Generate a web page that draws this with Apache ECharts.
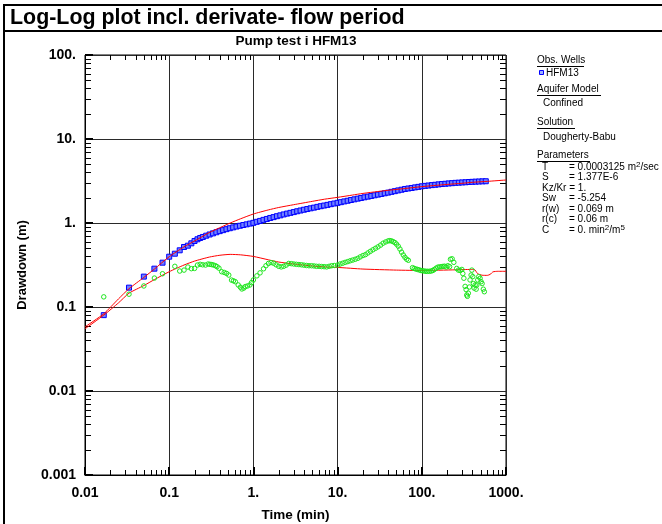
<!DOCTYPE html>
<html>
<head>
<meta charset="utf-8">
<script src="https://cdn.jsdelivr.net/npm/echarts@6/dist/echarts.min.js"></script>
<style>
  html, body { margin: 0; padding: 0; background: #fff; }
  #chart { width: 662px; height: 524px; }
</style>
</head>
<body>
<div id="chart"></div>
<script>
// ---- Observed drawdown, well HFM13 (time in min, drawdown in m) ----
const obsTime = [
  0.0167, 0.0333, 0.05, 0.0667, 0.0833, 0.1, 0.1167, 0.1333, 0.15, 0.1667, 0.1833, 0.2, 0.2167, 0.2333,
  0.251, 0.275, 0.302, 0.331, 0.363, 0.398, 0.437, 0.479, 0.525, 0.575, 0.631, 0.692, 0.759, 0.832, 0.912,
  1.0, 1.096, 1.202, 1.318, 1.445, 1.585, 1.738, 1.905, 2.089, 2.291, 2.512, 2.754, 3.02, 3.311, 3.631,
  3.981, 4.365, 4.786, 5.248, 5.754, 6.31, 6.918, 7.586, 8.318, 9.12, 10.0, 10.96, 12.02, 13.18, 14.45,
  15.85, 17.38, 19.05, 20.89, 22.91, 25.12, 27.54, 30.2, 33.11, 36.31, 39.81, 43.65, 47.86, 52.48, 57.54,
  63.1, 69.18, 75.86, 83.18, 91.2, 100.0, 109.6, 120.2, 131.8, 144.5, 158.5, 173.8, 190.5, 208.9, 229.1,
  251.2, 275.4, 302.0, 331.1, 363.1, 398.1, 436.5, 478.6, 524.8, 575.4
];
const obsDrawdown = [
  0.080, 0.170, 0.230, 0.286, 0.337, 0.397, 0.431, 0.473, 0.518, 0.537, 0.573, 0.611, 0.640, 0.663,
  0.682, 0.706, 0.730, 0.753, 0.776, 0.800, 0.822, 0.845, 0.867, 0.887, 0.908, 0.927, 0.946, 0.964, 0.984,
  1.005, 1.033, 1.059, 1.089, 1.117, 1.148, 1.175, 1.205, 1.233, 1.265, 1.294, 1.321, 1.349, 1.380, 1.409,
  1.439, 1.466, 1.496, 1.524, 1.556, 1.585, 1.614, 1.644, 1.675, 1.706, 1.738, 1.770, 1.807, 1.841, 1.879,
  1.914, 1.950, 1.986, 2.023, 2.061, 2.099, 2.138, 2.178, 2.218, 2.259, 2.301, 2.350, 2.393, 2.443, 2.489,
  2.541, 2.576, 2.612, 2.655, 2.692, 2.735, 2.767, 2.793, 2.825, 2.851, 2.884, 2.911, 2.931, 2.958, 2.979,
  3.006, 3.020, 3.041, 3.055, 3.076, 3.090, 3.105, 3.119, 3.133, 3.141
];

// ---- Observed derivative (m) ----
const derivTime = [
  0.0167, 0.0333, 0.05, 0.0667, 0.0833, 0.1167, 0.1333, 0.15, 0.1667, 0.1833, 0.2, 0.2167, 0.2333,
  0.25, 0.27, 0.29, 0.305, 0.32, 0.336, 0.355, 0.37, 0.39, 0.42, 0.45, 0.48, 0.51, 0.55, 0.58, 0.61,
  0.66, 0.7, 0.73, 0.77, 0.8, 0.85, 0.91, 0.95,
  1.0, 1.1, 1.2, 1.32, 1.41, 1.51, 1.62, 1.74, 1.86, 2.0, 2.14, 2.29, 2.45, 2.63, 2.82, 3.02, 3.24,
  3.47, 3.72, 3.98, 4.27, 4.57, 4.9, 5.25, 5.62, 6.03, 6.46, 6.92, 7.41, 7.94, 8.51, 9.12, 10.0, 10.7,
  11.5, 12.3, 13.2, 14.1, 15.1, 16.2, 17.4, 18.6, 20.0, 21.4, 22.9, 24.5, 26.3, 28.2, 30.2, 32.4, 34.7,
  37.2, 39.8, 41.7, 43.7, 45.7, 47.9, 50.1, 52.5, 55.0, 57.5, 60.3, 63.1, 66.1, 69.2,
  77.6, 81.3, 85.1, 89.1, 93.3, 97.7, 102, 107, 112, 117, 123, 129, 135, 141, 148, 155, 162, 170, 178,
  186, 195, 204, 214, 219, 229, 240, 260, 272, 285, 299, 307, 316, 327, 336, 342, 348, 357, 367, 374,
  385, 393, 403, 410, 418, 430, 442, 450, 462, 475, 492, 506, 520, 538, 553
];
const derivValue = [
  0.132, 0.142, 0.178, 0.221, 0.249, 0.305, 0.268, 0.275, 0.299, 0.286, 0.288, 0.316, 0.322,
  0.318, 0.316, 0.325, 0.322, 0.320, 0.316, 0.310, 0.302, 0.290, 0.263, 0.258, 0.251, 0.240, 0.209, 0.205, 0.200,
  0.183, 0.172, 0.164, 0.168, 0.175, 0.178, 0.183, 0.195,
  0.210, 0.235, 0.255, 0.285, 0.310, 0.330, 0.338, 0.332, 0.318, 0.305, 0.300, 0.305, 0.315, 0.330, 0.328, 0.325, 0.322,
  0.320, 0.318, 0.315, 0.312, 0.310, 0.310, 0.308, 0.305, 0.305, 0.303, 0.302, 0.300, 0.305, 0.310, 0.312, 0.316, 0.325,
  0.332, 0.340, 0.347, 0.355, 0.362, 0.370, 0.380, 0.395, 0.410, 0.420, 0.440, 0.460, 0.480, 0.500, 0.520, 0.545, 0.575,
  0.595, 0.612, 0.617, 0.612, 0.600, 0.585, 0.560, 0.530, 0.490, 0.450, 0.416, 0.390, 0.370, 0.360,
  0.294, 0.288, 0.283, 0.280, 0.276, 0.272, 0.270, 0.268, 0.266, 0.266, 0.266, 0.268, 0.272, 0.280, 0.290, 0.298, 0.300, 0.302, 0.304,
  0.306, 0.300, 0.310, 0.302, 0.370, 0.375, 0.340, 0.288, 0.275, 0.272, 0.280, 0.250, 0.220, 0.176, 0.161, 0.139, 0.134, 0.146, 0.173, 0.210,
  0.240, 0.275, 0.230, 0.190, 0.168, 0.183, 0.163, 0.183, 0.210, 0.230, 0.220, 0.200, 0.190, 0.163, 0.152
];

// ---- Dougherty-Babu type curve: drawdown and derivative (m) ----
const fitTime = [
  0.01, 0.0167, 0.025, 0.0333, 0.05, 0.0667, 0.1, 0.15, 0.2, 0.3, 0.4, 0.53, 0.7, 1, 1.5, 2, 3, 5, 7,
  10, 15, 20, 30, 40, 60, 100, 150, 200, 300, 400, 600, 1000
];
const fitDrawdown = [
  0.058, 0.083, 0.125, 0.165, 0.225, 0.283, 0.397, 0.52, 0.61, 0.77, 0.88, 1.0, 1.12, 1.28, 1.43, 1.53, 1.65, 1.81, 1.92,
  2.02, 2.15, 2.25, 2.37, 2.45, 2.56, 2.71, 2.81, 2.88, 2.97, 3.05, 3.13, 3.25
];
const derivFitTime = [
  0.01, 0.0167, 0.025, 0.0333, 0.05, 0.0667, 0.1, 0.15, 0.2, 0.3, 0.4, 0.53, 0.7, 1, 1.5, 2, 3, 5, 7,
  10, 20, 50, 100, 250, 380, 420, 460, 520, 600, 650, 700, 800, 1000
];
const derivFitValue = [
  0.055, 0.080, 0.112, 0.146, 0.180, 0.212, 0.263, 0.316, 0.352, 0.393, 0.413, 0.423, 0.418, 0.400, 0.365, 0.343, 0.325, 0.308, 0.300,
  0.296, 0.283, 0.275, 0.272, 0.277, 0.280, 0.280, 0.250, 0.239, 0.238, 0.245, 0.262, 0.266, 0.266
];

// ---- Axis tick labels ----
const xTickLabels = ['0.01', '0.1', '1.', '10.', '100.', '1000.'];
const yTickLabels = ['0.001', '0.01', '0.1', '1.', '10.', '100.'];

const X_MIN = 0.01, X_MAX = 1000, Y_MIN = 0.001, Y_MAX = 100;
const FONT = 'Liberation Sans, Arial, sans-serif';

// Minor tick positions (2..9 within each decade)
function decadeMinors(lo, hi) {
  const out = [];
  for (let d = lo; d < hi; d *= 10) {
    for (let m = 2; m <= 9; m++) out.push(+(m * d).toPrecision(6));
  }
  return out;
}
const xMinorTicks = decadeMinors(X_MIN, X_MAX);
const yMinorTicks = decadeMinors(Y_MIN, Y_MAX);

const zip = (a, b) => a.map((v, i) => [v, b[i]]);
const px = v => Math.round(v) + 0.5;

function xMinorTickItem(params, api) {
  const v = api.value(0);
  const b = api.coord([v, Y_MIN]);
  const t = api.coord([v, Y_MAX]);
  const x = px(b[0]);
  return {
    type: 'group',
    children: [
      { type: 'line', shape: { x1: x, y1: b[1], x2: x, y2: b[1] - 5 }, style: { stroke: '#000', lineWidth: 1 } },
      { type: 'line', shape: { x1: x, y1: t[1], x2: x, y2: t[1] + 5 }, style: { stroke: '#000', lineWidth: 1 } }
    ]
  };
}
function yMinorTickItem(params, api) {
  const v = api.value(1);
  const l = api.coord([X_MIN, v]);
  const r = api.coord([X_MAX, v]);
  const y = px(l[1]);
  return {
    type: 'group',
    children: [
      { type: 'line', shape: { x1: l[0], y1: y, x2: l[0] + 6, y2: y }, style: { stroke: '#000', lineWidth: 1 } },
      { type: 'line', shape: { x1: r[0], y1: y, x2: r[0] - 6, y2: y }, style: { stroke: '#000', lineWidth: 1 } }
    ]
  };
}

// ---- Side panel text ----
const LX = 537, LX2 = 543, PX1 = 542, PX2 = 569;
function txt(x, y, text, extra) {
  return Object.assign({
    type: 'text', x: x, y: y,
    style: { text: text, font: '10px ' + FONT, fill: '#000', textVerticalAlign: 'middle' }
  }, extra || {});
}
function header(x, y, text, w) {
  return [
    txt(x, y, text),
    { type: 'line', shape: { x1: x, y1: y + 6.5, x2: x + w, y2: y + 6.5 }, style: { stroke: '#000', lineWidth: 1 } }
  ];
}
const supRich = {
  sup: { fontSize: 8, fontFamily: FONT, verticalAlign: 'top', lineHeight: 10 },
  n: { fontSize: 10, fontFamily: FONT, lineHeight: 12 }
};
function richTxt(x, y, text) {
  return {
    type: 'text', x: x, y: y,
    style: { text: text, rich: supRich, fill: '#000', textVerticalAlign: 'middle', font: '10px ' + FONT }
  };
}

const panel = [].concat(
  header(LX, 60, 'Obs. Wells', 47),
  [{ type: 'rect', shape: { x: 539.5, y: 70.5, width: 4, height: 4 }, style: { fill: '#9fb0ff', stroke: '#0000ff', lineWidth: 1 } }],
  [txt(546, 73, 'HFM13')],
  header(LX, 89, 'Aquifer Model', 64),
  [txt(LX2, 103, 'Confined')],
  header(LX, 122, 'Solution', 38),
  [txt(LX2, 137, 'Dougherty-Babu')],
  header(LX, 155, 'Parameters', 53),
  [
    txt(PX1, 167, 'T'), richTxt(PX2, 167, '{n|= 0.0003125 m}{sup|2}{n|/sec}'),
    txt(PX1, 177.5, 'S'), txt(PX2, 177.5, '= 1.377E-6'),
    txt(PX1, 188, 'Kz/Kr = 1.'),
    txt(PX1, 198.5, 'Sw'), txt(PX2, 198.5, '= -5.254'),
    txt(PX1, 209, 'r(w)'), txt(PX2, 209, '= 0.069 m'),
    txt(PX1, 219.5, 'r(c)'), txt(PX2, 219.5, '= 0.06 m'),
    txt(PX1, 230, 'C'), richTxt(PX2, 230, '{n|= 0. min}{sup|2}{n|/m}{sup|5}')
  ]
);

// ---- Page frame and headings ----
const frame = [
  { type: 'line', shape: { x1: 3, y1: 5, x2: 662, y2: 5 }, style: { stroke: '#000', lineWidth: 2 } },
  { type: 'line', shape: { x1: 3, y1: 31, x2: 662, y2: 31 }, style: { stroke: '#000', lineWidth: 2 } },
  { type: 'line', shape: { x1: 4, y1: 4, x2: 4, y2: 524 }, style: { stroke: '#000', lineWidth: 2 } },
  { type: 'text', x: 10, y: 18, style: { text: 'Log-Log plot incl. derivate- flow period', font: 'bold 21.4px ' + FONT, fill: '#000', textVerticalAlign: 'middle' } },
  { type: 'text', x: 296, y: 41, style: { text: 'Pump test i HFM13', font: 'bold 13.5px ' + FONT, fill: '#000', textAlign: 'center', textVerticalAlign: 'middle' } }
];

const chart = echarts.init(document.getElementById('chart'), null, { renderer: 'canvas' });

chart.setOption({
  animation: false,
  backgroundColor: '#fff',
  textStyle: { fontFamily: FONT },
  grid: {
    left: 85, top: 55, width: 421, height: 420,
    show: true, borderColor: '#000', borderWidth: 1, backgroundColor: 'transparent',
    containLabel: false, outerBoundsMode: 'none'
  },
  xAxis: {
    type: 'log', logBase: 10, min: X_MIN, max: X_MAX,
    name: 'Time (min)', nameLocation: 'middle', nameGap: 33,
    nameTextStyle: { fontFamily: FONT, fontWeight: 'bold', fontSize: 13.5, color: '#000' },
    axisLine: { show: true, lineStyle: { color: '#000', width: 1 } },
    axisTick: { show: true, inside: true, length: 8, lineStyle: { color: '#000', width: 2 } },
    minorTick: { show: false },
    splitLine: { show: true, lineStyle: { color: '#2a2a2a', width: 1 } },
    axisLabel: {
      margin: 11, color: '#000', fontFamily: FONT, fontWeight: 'bold', fontSize: 14,
      formatter: v => xTickLabels[Math.round(Math.log10(v)) + 2],
      showMinLabel: true, showMaxLabel: true
    }
  },
  yAxis: {
    type: 'log', logBase: 10, min: Y_MIN, max: Y_MAX,
    name: 'Drawdown (m)', nameLocation: 'middle', nameGap: 56, nameRotate: 90,
    nameTextStyle: { fontFamily: FONT, fontWeight: 'bold', fontSize: 13, color: '#000' },
    axisLine: { show: true, lineStyle: { color: '#000', width: 1 } },
    axisTick: { show: true, inside: true, length: 8, lineStyle: { color: '#000', width: 2 } },
    minorTick: { show: false },
    splitLine: { show: true, lineStyle: { color: '#2a2a2a', width: 1 } },
    axisLabel: {
      margin: 9, color: '#000', fontFamily: FONT, fontWeight: 'bold', fontSize: 14,
      formatter: v => yTickLabels[Math.round(Math.log10(v)) + 3],
      showMinLabel: true, showMaxLabel: true
    }
  },
  series: [
    {
      type: 'custom', name: 'xMinor', coordinateSystem: 'cartesian2d', silent: true, clip: false,
      encode: { x: 0, y: 1 }, renderItem: xMinorTickItem,
      data: xMinorTicks.map(v => [v, 1]), z: 3
    },
    {
      type: 'custom', name: 'yMinor', coordinateSystem: 'cartesian2d', silent: true, clip: false,
      encode: { x: 0, y: 1 }, renderItem: yMinorTickItem,
      data: yMinorTicks.map(v => [1, v]), z: 3
    },
    {
      type: 'scatter', name: 'HFM13', data: zip(obsTime, obsDrawdown),
      symbol: 'rect', symbolSize: 5,
      itemStyle: { color: '#7080ff', borderColor: '#0000ff', borderWidth: 1, opacity: 1 },
      z: 4, silent: true
    },
    {
      type: 'line', name: 'Drawdown fit', data: zip(fitTime, fitDrawdown),
      showSymbol: false, symbol: 'none', smooth: 0.2,
      lineStyle: { color: '#ff0000', width: 1 }, z: 5, silent: true
    },
    {
      type: 'line', name: 'Derivative fit', data: zip(derivFitTime, derivFitValue),
      showSymbol: false, symbol: 'none', smooth: 0.2,
      lineStyle: { color: '#ff0000', width: 1 }, z: 5, silent: true
    },
    {
      type: 'scatter', name: 'Derivative', data: zip(derivTime, derivValue),
      symbol: 'circle', symbolSize: 4.5,
      itemStyle: { color: 'rgba(0,0,0,0)', borderColor: '#1ee61e', borderWidth: 1, opacity: 1 },
      z: 6, silent: true
    }
  ],
  graphic: frame.concat(panel)
});
</script>
</body>
</html>
